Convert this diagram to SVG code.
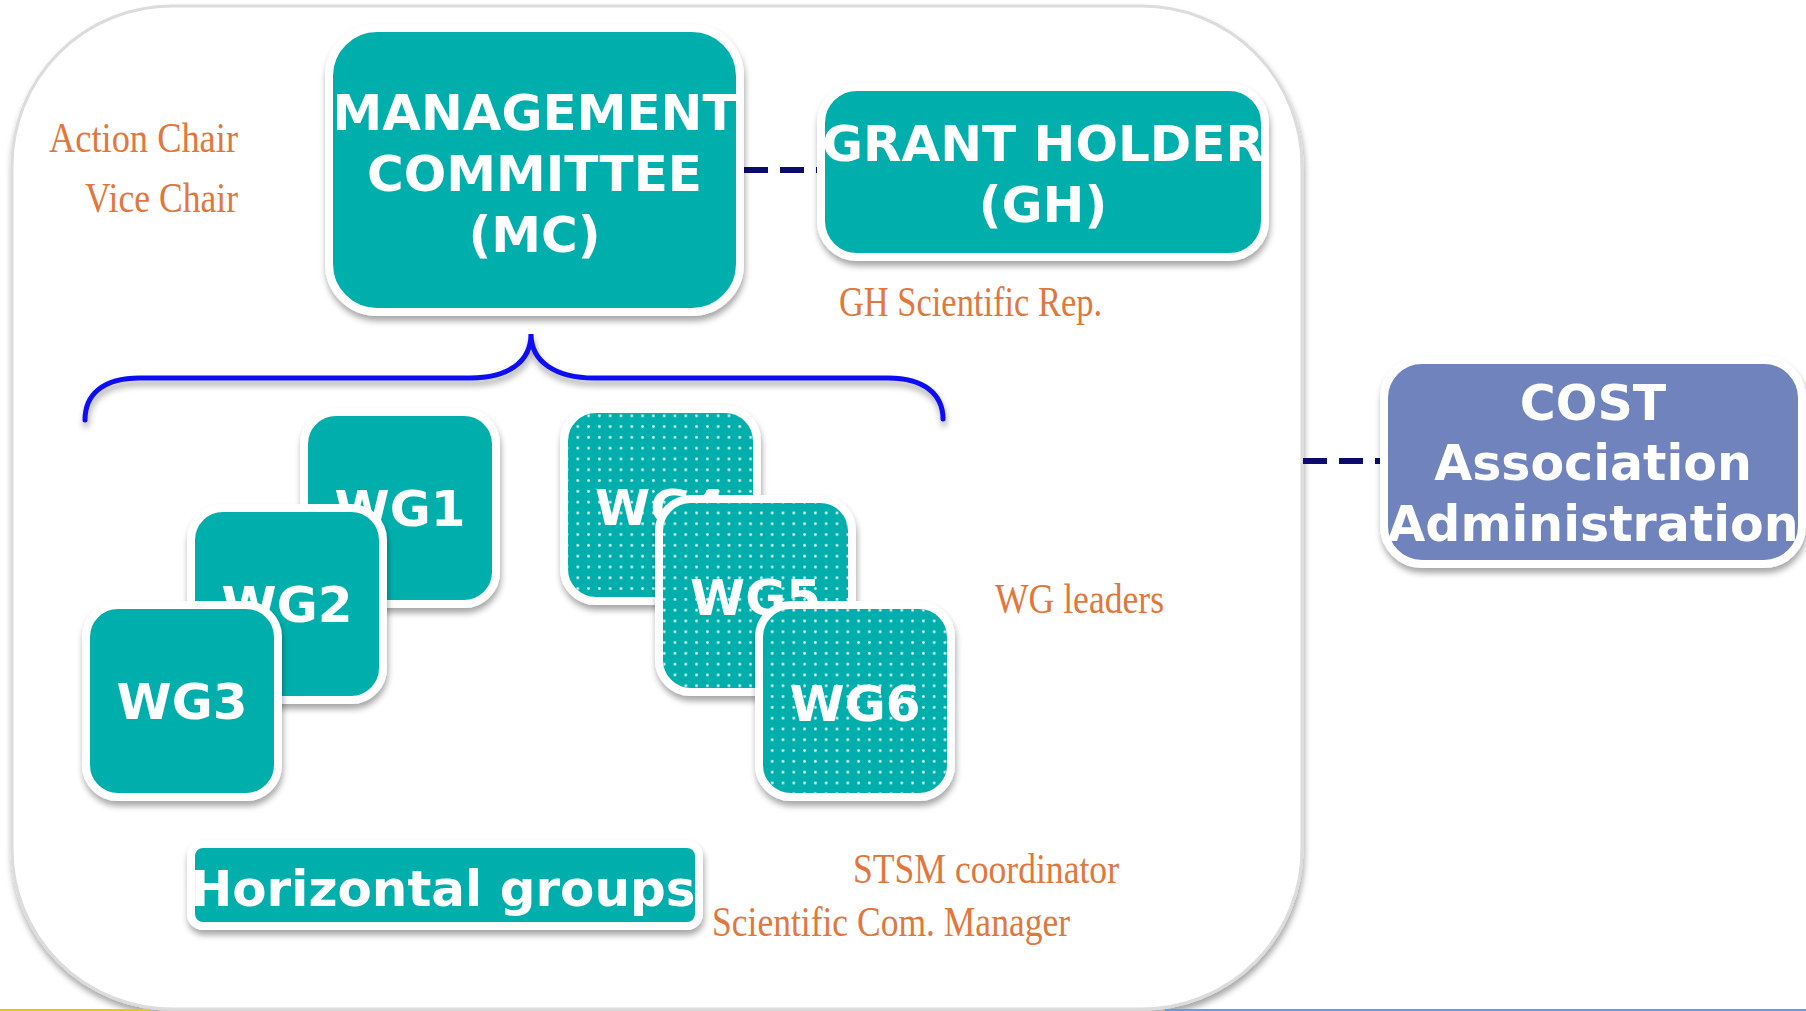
<svg xmlns="http://www.w3.org/2000/svg" width="1806" height="1011" viewBox="0 0 1806 1011">
<style>
.box{fill:#02AFAB;stroke:#ffffff;stroke-width:8}
.cost{fill:#6F83BD;stroke:#ffffff;stroke-width:8}
.dots{fill:url(#dots);stroke:none}
.t{font-family:"DejaVu Sans","Liberation Sans",sans-serif;font-weight:bold;fill:#ffffff;text-anchor:middle}
.o{font-family:"Liberation Serif","DejaVu Serif",serif;fill:#E2773E;font-size:42px}
.dash{stroke:#0B0B6E;stroke-width:6;stroke-dasharray:24 12;fill:none}
</style>
<defs>
<filter id="sh" x="-10%" y="-10%" width="120%" height="130%">
<feDropShadow dx="1" dy="5" stdDeviation="3" flood-color="#000" flood-opacity="0.35"/>
</filter>
<pattern id="dots" patternUnits="userSpaceOnUse" width="10.8" height="10.8">
<circle cx="5.4" cy="5.4" r="1.4" fill="#ffffff" fill-opacity="0.85"/>
</pattern>
</defs>
<rect width="1806" height="1011" fill="#ffffff"/>
<rect id="container" x="12" y="6" width="1290" height="1003" rx="160" fill="#ffffff" stroke="#dcdcdc" stroke-width="3" filter="url(#sh)"/>
<line x1="0" y1="1010" x2="150" y2="1010" stroke="#F2C500" stroke-width="2"/>
<line x1="1165" y1="1010" x2="1806" y2="1010" stroke="#5B9BF5" stroke-width="2"/>

<g id="connectors">
<line class="dash" x1="744" y1="170" x2="821" y2="170"/>
<line class="dash" x1="1303" y1="461" x2="1384" y2="461"/>
<path id="brace" d="M85,420 C85,395 102,378 140,378 L470,378 C508,378 531,362 531,334 C531,362 556,378 594,378 L888,378 C925,378 943,395 943,419" fill="none" stroke="#1010F5" stroke-width="5" stroke-linecap="round" filter="url(#sh)"/>
</g>

<g id="mc" filter="url(#sh)">
<rect class="box" x="329" y="28" width="411" height="284" rx="48"/>
<text class="t" font-size="50" x="534.5" y="130">MANAGEMENT</text>
<text class="t" font-size="50" x="534.5" y="191">COMMITTEE</text>
<text class="t" font-size="50" x="534.5" y="252">(MC)</text>
</g>

<g id="gh" filter="url(#sh)">
<rect class="box" x="821" y="87" width="444" height="170" rx="36"/>
<text class="t" font-size="50" x="1043" y="161">GRANT HOLDER</text>
<text class="t" font-size="50" x="1043" y="222">(GH)</text>
</g>

<g id="cost" filter="url(#sh)">
<rect class="cost" x="1384" y="360" width="418" height="204" rx="38"/>
<text class="t" font-size="49" x="1593" y="420">COST</text>
<text class="t" font-size="49" x="1593" y="480">Association</text>
<text class="t" font-size="49" x="1593" y="541">Administration</text>
</g>

<g id="wg1" filter="url(#sh)">
<rect class="box" x="304" y="412" width="192" height="192" rx="32"/>
<text class="t" font-size="50" x="400" y="526">WG1</text>
</g>
<g id="wg2" filter="url(#sh)">
<rect class="box" x="191" y="508" width="192" height="192" rx="32"/>
<text class="t" font-size="50" x="287" y="622">WG2</text>
</g>
<g id="wg3" filter="url(#sh)">
<rect class="box" x="86" y="605" width="192" height="192" rx="32"/>
<text class="t" font-size="50" x="182" y="719">WG3</text>
</g>

<g id="wg4" filter="url(#sh)">
<rect class="box" x="564" y="409" width="193" height="192" rx="32"/>
<rect class="dots" x="568" y="413" width="185" height="184" rx="28"/>
<text class="t" font-size="50" x="660.5" y="525">WG4</text>
</g>
<g id="wg5" filter="url(#sh)">
<rect class="box" x="659" y="499" width="193" height="193" rx="32"/>
<rect class="dots" x="663" y="503" width="185" height="185" rx="28"/>
<text class="t" font-size="50" x="755.5" y="615">WG5</text>
</g>
<g id="wg6" filter="url(#sh)">
<rect class="box" x="759" y="605" width="192" height="192" rx="32"/>
<rect class="dots" x="763" y="609" width="184" height="184" rx="28"/>
<text class="t" font-size="50" x="855" y="721">WG6</text>
</g>

<g id="hg" filter="url(#sh)">
<rect class="box" x="191" y="844" width="508" height="82" rx="12"/>
<text class="t" font-size="50" x="443" y="906">Horizontal groups</text>
</g>

<g id="labels">
<text class="o" x="49" y="152" textLength="189" lengthAdjust="spacingAndGlyphs">Action Chair</text>
<text class="o" x="85" y="212" textLength="153" lengthAdjust="spacingAndGlyphs">Vice Chair</text>
<text class="o" x="839" y="316" textLength="263" lengthAdjust="spacingAndGlyphs">GH Scientific Rep.</text>
<text class="o" x="995" y="613" textLength="169" lengthAdjust="spacingAndGlyphs">WG leaders</text>
<text class="o" x="853" y="883" textLength="266" lengthAdjust="spacingAndGlyphs">STSM coordinator</text>
<text class="o" x="712" y="936" textLength="358" lengthAdjust="spacingAndGlyphs">Scientific Com. Manager</text>
</g>
</svg>
